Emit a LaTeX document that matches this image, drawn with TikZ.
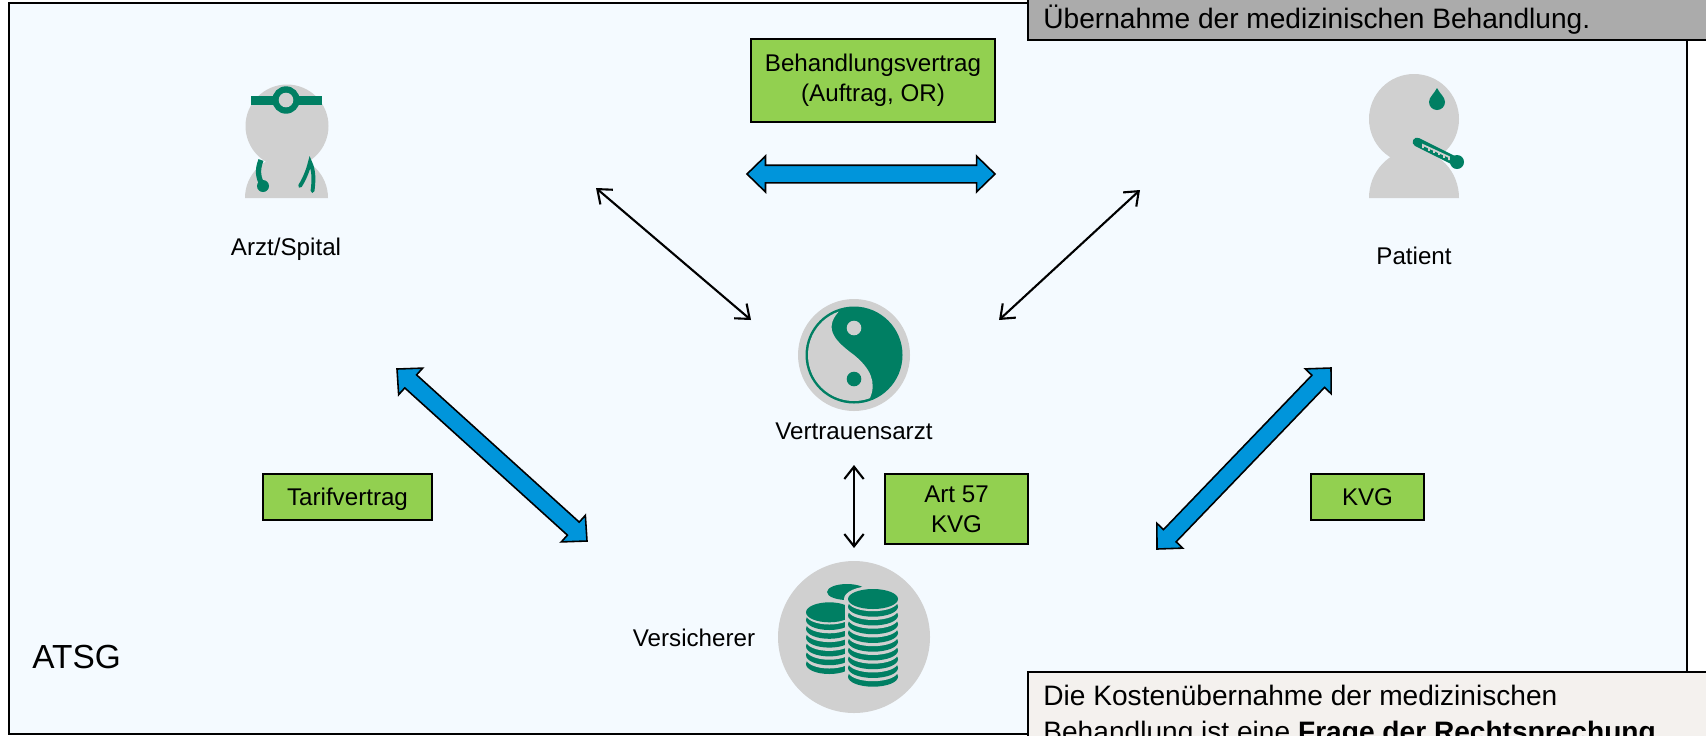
\documentclass[tikz,border=0pt]{standalone}
\usepackage{fontspec}
\setmainfont{Liberation Sans}
\usepackage{tikz}
\usetikzlibrary{calc,arrows.meta}
\definecolor{bgblue}{HTML}{F4FAFF}
\definecolor{tealgreen}{HTML}{007F63}
\definecolor{icongray}{HTML}{D0D0D0}
\definecolor{arrowblue}{HTML}{0095DB}
\definecolor{labelgreen}{HTML}{92D050}
\definecolor{topgray}{HTML}{ABABAB}
\definecolor{notebeige}{HTML}{F4F1EE}
\tikzset{
  labeltext/.style={font=\fontsize{13.75}{16.9}\selectfont,align=center},
  greenbox/.style={labeltext,draw=black,line width=0.8pt,fill=labelgreen,inner sep=0pt},
  oneline/.style={text height=12.85pt,text depth=3pt},
  notetext/.style={font=\fontsize{16}{21.5}\selectfont,anchor=base west,inner sep=0pt},
  thinarrow/.style={line width=1.2pt,{Straight Barb[length=7pt,width=11pt]}-{Straight Barb[length=7pt,width=11pt]}},
  blockline/.style={draw=black,line width=0.9pt,fill=arrowblue,line join=miter}
}
\newcommand{\blockarrow}[2]{%
  \coordinate (ha) at ($(#1)!10.5pt!(#2)$);
  \coordinate (hb) at ($(#2)!10.5pt!(#1)$);
  \draw[blockline] (#1) -- ($(ha)!10.2pt!90:(#2)$) -- ($(ha)!5pt!90:(#2)$)
    -- ($(hb)!5pt!-90:(#1)$) -- ($(hb)!10.2pt!-90:(#1)$) -- (#2)
    -- ($(hb)!10.2pt!90:(#1)$) -- ($(hb)!5pt!90:(#1)$)
    -- ($(ha)!5pt!-90:(#2)$) -- ($(ha)!10.2pt!-90:(#2)$) -- cycle;
}
\begin{document}
\begin{tikzpicture}[x=0.02cm,y=-0.02cm]
\useasboundingbox (0,0) rectangle (1706,735);
\clip (0,0) rectangle (1706,735);
% frame
\draw[black,line width=1.1pt,fill=bgblue] (9,3) rectangle (1687,734);
% doctor
\fill[icongray] (245,198) arc[x radius=41.5,y radius=42,start angle=180,end angle=360] -- cycle;
\fill[icongray] (287,126) circle (41.5);
\fill[tealgreen] (251,96) rectangle (322,105);
\fill[tealgreen] (286,100) circle (13.7);
\fill[icongray] (286,100) circle (7.3);
\draw[tealgreen,line width=3pt] (261,160) .. controls (257,170) and (258,178) .. (263,186);
\fill[tealgreen] (263,186) circle (6);
\draw[tealgreen,line width=2.2pt,line cap=round] (300,186) .. controls (305,178) and (308,170) .. (310,162) .. controls (314,170) and (314,180) .. (312.5,191);
% patient
\fill[icongray] (1369,198) arc[x radius=45,y radius=48,start angle=180,end angle=360] -- cycle;
\fill[icongray] (1414,119) circle (45);
\fill[tealgreen] (1437,88) .. controls (1440,94) and (1445,97) .. (1445,102) arc[radius=8,start angle=0,end angle=180] .. controls (1429,97) and (1434,94) .. (1437,88) -- cycle;
\draw[tealgreen,line width=5pt,line cap=round] (1417,142) -- (1455,161);
\fill[tealgreen] (1457,162) circle (7);
\draw[icongray,line width=1pt] (1423,148) -- (1423,145) -- (1449,157) -- (1449,160);
\foreach \tickx in {1429,1434,1439,1444}
  \draw[icongray,line width=0.8pt] (\tickx,{145+(\tickx-1423)*0.46}) -- ++(0,3);
% yin yang
\fill[icongray] (854,355) circle (56);
\fill[tealgreen] (854,355) circle (48.5);
\fill[icongray] (838.7,311.6) arc[radius=46,start angle=-109.4,end angle=-290.3] .. controls (877,382) and (870,368) .. (854,355) .. controls (838,343) and (822,330) .. (838.7,311.6) -- cycle;
\fill[icongray] (854,328) circle (7.3);
\fill[tealgreen] (854,379) circle (7.3);
% coins
\fill[icongray] (854,637) circle (76);
\fill[tealgreen] (847,592) ellipse (20 and 8);
\foreach \i in {5,...,0} {
  \pgfmathsetmacro{\coiny}{620+8.8*\i}
  \fill[tealgreen] (829.3,\coiny) ellipse (23.3 and 10);
  \fill[icongray] (829.3,\coiny-5.5) ellipse (23.3 and 10);
}
\fill[tealgreen] (829.3,612.3) ellipse (23.3 and 10);
\fill[icongray] (873,599) ellipse (29 and 13);
\fill[icongray] (845,599) rectangle (873,690);
\foreach \i in {8,...,0} {
  \pgfmathsetmacro{\coiny}{606.7+8.75*\i}
  \fill[tealgreen] (873,\coiny) ellipse (25 and 10);
  \fill[icongray] (873,\coiny-5.5) ellipse (25 and 10);
}
\fill[tealgreen] (873,599) ellipse (25 and 10);
% arrows
\coordinate (doctorend) at (596,188);
\coordinate (vaupleft) at (751,320);
\coordinate (patientend) at (1140,190);
\coordinate (vaupright) at (999,320);
\coordinate (vadown) at (854,465);
\coordinate (insup) at (854,548);
\draw[thinarrow] (doctorend) -- (vaupleft);
\draw[thinarrow] (patientend) -- (vaupright);
\draw[thinarrow] (vadown) -- (insup);
\coordinate (contractleft) at (747,174);
\coordinate (contractright) at (995,174);
\coordinate (tarifftop) at (397,369);
\coordinate (tariffbottom) at (587,541);
\coordinate (kvgtop) at (1331,368);
\coordinate (kvgbottom) at (1157,549);
\blockarrow{contractleft}{contractright}
\blockarrow{tarifftop}{tariffbottom}
\blockarrow{kvgtop}{kvgbottom}
% labels
\node[greenbox,minimum width=244*0.02cm,minimum height=83*0.02cm] (behandlung) at (873,80.5) {Behandlungsvertrag\\(Auftrag, OR)};
\node[greenbox,oneline,minimum width=169*0.02cm,minimum height=46*0.02cm] (tarif) at (347.5,497) {Tarifvertrag};
\node[greenbox,minimum width=143*0.02cm,minimum height=70*0.02cm] (art) at (956.5,509) {Art 57\\KVG};
\node[greenbox,oneline,minimum width=113*0.02cm,minimum height=46*0.02cm] (kvg) at (1367.5,497) {KVG};
\node[labeltext] (arzt) at (286,249) {Arzt/Spital};
\node[labeltext] (patient) at (1414,256) {Patient};
\node[labeltext] (vertrauen) at (854,431) {Vertrauensarzt};
\node[labeltext] (versicherer) at (694,638) {Versicherer};
\node[font=\fontsize{19}{22}\selectfont,anchor=base west,inner sep=0pt] (atsg) at (32,668) {ATSG};
% notes
\draw[black,line width=1pt,fill=topgray] (1028,-5) rectangle (1710,40);
\node[notetext] (uebernahme) at (1043,28) {Übernahme der medizinischen Behandlung.};
\draw[black,line width=1pt,fill=notebeige] (1028,672) rectangle (1710,745);
\node[notetext] (kosten1) at (1043,705) {Die Kostenübernahme der medizinischen};
\node[notetext] (kosten2) at (1043,741) {Behandlung ist eine \textbf{Frage der Rechtsprechung}};
\end{tikzpicture}
\end{document}
